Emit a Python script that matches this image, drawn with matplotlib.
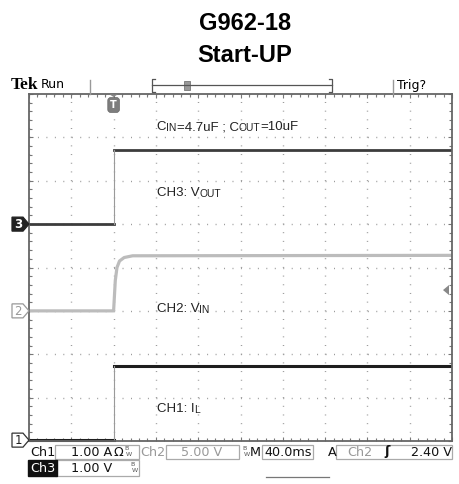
import matplotlib.pyplot as plt
from matplotlib.patches import Polygon, Rectangle

# ====== Data (screen divisions: x 0..10, y 0..8) ======
t_edge = 2.0
ch3_levels = [5.0, 6.7]          # Vout: before / after start-up
ch1_levels = [0.02, 1.73]        # IL
ch2_t = [0.0, 2.0, 2.04, 2.08, 2.14, 2.25, 2.45, 10.0]   # Vin rise
ch2_v = [3.0, 3.0, 3.7, 4.0, 4.15, 4.23, 4.27, 4.28]
ch2_ground = 3.0
ch2_scale = 5.0
trig_level = 2.40

title_lines = ["G962-18", "Start-UP"]

W, H = 459, 484
fig = plt.figure(figsize=(W / 100, H / 100), dpi=100)
fig.patch.set_facecolor("white")

# ====== Scope screen ======
ax = fig.add_axes([29 / W, (H - 441) / H, 423 / W, 347 / H])
ax.set_xlim(0, 10)
ax.set_ylim(0, 8)
ax.set_xticks(range(11))
ax.set_yticks(range(9))
ax.set_xticks([i / 5 for i in range(51)], minor=True)
ax.set_yticks([i / 5 for i in range(41)], minor=True)
ax.tick_params(which="both", direction="in", top=True, right=True,
               labelbottom=False, labelleft=False, color="#777", width=0.8)
ax.tick_params(which="major", length=3.0)
ax.tick_params(which="minor", length=2.2)
for s in ax.spines.values():
    s.set_color("#666")
    s.set_linewidth(1.3)
ax.xaxis.grid(True, color="#999", linewidth=1.0, linestyle=(0, (0.7, 5.55)))
ax.yaxis.grid(True, color="#999", linewidth=1.0, linestyle=(0, (0.7, 5.39)))

# CH3 Vout
ax.plot([0, t_edge], [ch3_levels[0]] * 2, color="#3c3c3c", lw=2.0)
ax.plot([t_edge, 10], [ch3_levels[1]] * 2, color="#3c3c3c", lw=2.0)
ax.plot([t_edge, t_edge], ch3_levels, color="#9a9a9a", lw=0.8)
# CH2 Vin
ax.plot(ch2_t, ch2_v, color="#bcbcbc", lw=2.3)
# CH1 IL
ax.plot([0, t_edge], [ch1_levels[0]] * 2, color="#1e1e1e", lw=2.2, clip_on=False)
ax.plot([t_edge, 10], [ch1_levels[1]] * 2, color="#1e1e1e", lw=2.2)
ax.plot([t_edge, t_edge], ch1_levels, color="#9a9a9a", lw=0.8)


def rich(x, y, parts, color="#222"):
    t = ax.text(x, y, parts[0][0], fontsize=parts[0][1], va="baseline",
                family="Liberation Sans", color=color)
    for s, fs in parts[1:]:
        t = ax.annotate(s, xy=(1, 0), xycoords=t, va="bottom", ha="left",
                        fontsize=fs, family="Liberation Sans", color=color)


big, small = 9.5, 7.4
rich(3.02, 7.17, [("C", big), ("IN", small), ("=4.7uF ; C", big),
                  ("OUT", small), ("=10uF", big)])
rich(3.02, 5.65, [("CH3: V", big), ("OUT", small)])
rich(3.02, 2.97, [("CH2: V", big), ("IN", small)])
rich(3.02, 0.67, [("CH1: I", big), ("L", small)])

# ====== Overlay in pixel coordinates for scope chrome ======
ov = fig.add_axes([0, 0, 1, 1], zorder=5)
ov.set_xlim(0, W)
ov.set_ylim(H, 0)
ov.axis("off")


def to_px(x, y):
    dx, dy = ax.transData.transform((x, y))
    return dx, H - dy


# titles
fig.text(245 / W, 1 - 24 / H, title_lines[0], ha="center", va="center",
         fontsize=17, fontweight="bold", family="Liberation Sans")
fig.text(245 / W, 1 - 55 / H, title_lines[1], ha="center", va="center",
         fontsize=17, fontweight="bold", family="Liberation Sans")

# top status bar
ov.text(11, 85, "Tek", fontsize=12.5, fontweight="bold", family="Liberation Serif",
        va="center", ha="left")
ov.text(41, 85, "Run", fontsize=9, family="DejaVu Sans", va="center", ha="left")
ov.plot([90, 90], [80, 94], color="#999", lw=1)
ov.plot([393, 393], [80, 94], color="#999", lw=1)
ov.plot([152, 332], [85, 85], color="#555", lw=0.9)
ov.plot([155, 152, 152, 155], [79, 79, 92, 92], color="#555", lw=0.9)
ov.plot([329, 332, 332, 329], [79, 79, 92, 92], color="#555", lw=0.9)
ov.add_patch(Rectangle((184, 81), 6, 9, facecolor="#999", edgecolor="#777", lw=0.6))
ov.text(397, 85, "Trig?", fontsize=9, family="DejaVu Sans", va="center", ha="left")

# trigger position marker
tx, ty = to_px(t_edge, 8)
ov.add_patch(Polygon([(tx - 4, ty + 0.5), (tx + 4, ty + 0.5), (tx, ty + 3)],
                     closed=True, facecolor="#888", edgecolor="none"))
ov.text(tx, ty + 11, "T", fontsize=7, fontweight="bold", color="white",
        ha="center", va="center", family="DejaVu Sans",
        bbox=dict(boxstyle="round,pad=0.25,rounding_size=0.3", fc="#7d7d7d", ec="#666", lw=0.5))


# channel ground markers
def ground_marker(level, label, fc, ec, tc):
    px, py = to_px(0, level)
    ov.add_patch(Polygon([(12, py - 7), (23, py - 7), (px, py), (23, py + 7), (12, py + 7)],
                         closed=True, facecolor=fc, edgecolor=ec, lw=0.9))
    ov.text(18, py + 0.5, label, fontsize=8.5, color=tc, ha="center", va="center",
            family="DejaVu Sans", fontweight="bold" if fc != "white" else "normal")


ground_marker(ch3_levels[0], "3", "#222", "#222", "white")
ground_marker(ch2_ground, "2", "white", "#999", "#999")
ground_marker(ch1_levels[0], "1", "white", "#333", "#222")

# trigger level marker
rx, ry = to_px(10, ch2_ground + trig_level / ch2_scale)
ov.add_patch(Polygon([(rx - 9, ry), (rx - 3, ry - 5), (rx - 3, ry + 5)],
                     closed=True, facecolor="#888", edgecolor="none"))

# bottom readout
box = dict(facecolor="none", edgecolor="#aaa", lw=0.9)
ov.add_patch(Rectangle((55, 445), 84, 14, **box))
ov.add_patch(Rectangle((166, 445), 73, 14, **box))
ov.add_patch(Rectangle((262, 445), 51, 14, **box))
ov.add_patch(Rectangle((336, 445), 116, 14, **box))
ov.add_patch(Rectangle((55, 460), 84, 16, **box))
ov.plot([266, 329], [477, 477], color="#777", lw=0.9)

fs = 9.2
kw = dict(fontsize=fs, family="DejaVu Sans", va="center", ha="left")
ov.text(30, 452, "Ch1", color="#111", **kw)
ov.text(71, 452, "1.00 A", color="#111", **kw)
ov.text(114, 452, "Ω", color="#111", **kw)
ov.text(140, 452, "Ch2", color="#999", **kw)
ov.text(181, 452, "5.00 V", color="#999", **kw)
ov.text(250, 452, "M", color="#111", **kw)
ov.text(264, 452, "40.0ms", color="#111", **kw)
ov.text(328, 452, "A", color="#111", **kw)
ov.text(347, 452, "Ch2", color="#999", **kw)
ov.text(384, 452, "ʃ", color="#111", fontsize=fs, fontweight="bold",
        family="DejaVu Sans", va="center", ha="left")
ov.text(411, 452, "2.40 V", color="#111", **kw)
ov.text(30, 468, "Ch3", color="white", **kw,
        bbox=dict(boxstyle="square,pad=0.12", fc="#111", ec="#111"))
ov.text(71, 468, "1.00 V", color="#111", **kw)

for bx, by in [(124, 452), (130, 468), (242, 452)]:
    ov.text(bx, by - 3, "B", fontsize=4.5, color="#555", family="DejaVu Sans",
            ha="left", va="center")
    ov.text(bx + 2, by + 2, "W", fontsize=4.5, color="#555", family="DejaVu Sans",
            ha="left", va="center")

fig.savefig("out.png", dpi=100)
